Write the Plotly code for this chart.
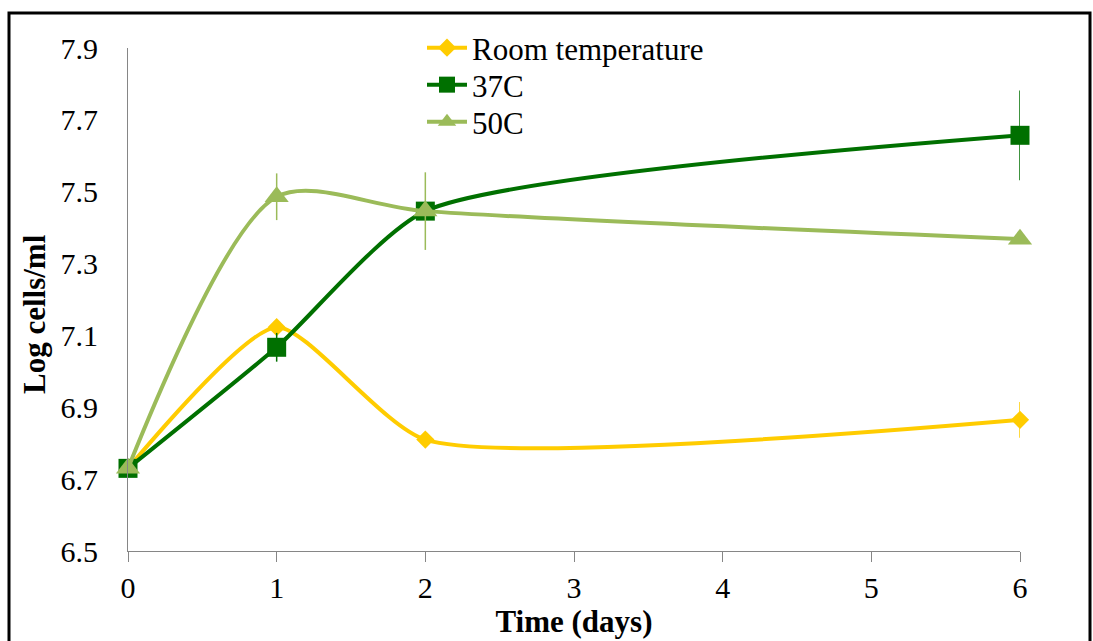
import plotly.graph_objects as go

days = [0, 1, 2, 6]
room_temp = [6.73, 7.123, 6.81, 6.865]
room_err = [0.0, 0.0, 0.0, 0.05]
c37 = [6.73, 7.067, 7.446, 7.657]
c37_err = [0.0, 0.04, 0.0, 0.125]
c50 = [6.73, 7.486, 7.446, 7.368]
c50_err = [0.0, 0.065, 0.108, 0.0]

x_ticks = [0, 1, 2, 3, 4, 5, 6]
y_ticks = [6.5, 6.7, 6.9, 7.1, 7.3, 7.5, 7.7, 7.9]

# name, values, errors, colour, symbol, size, smoothing, legend id, legend row centre (px)
series = [
    ("Room temperature", room_temp, room_err, "#FFCC00", "diamond", 14, 0.6, "legend", 48),
    ("37C", c37, c37_err, "#007000", "square", 19, 0.6, "legend2", 85),
    ("50C", c50, c50_err, "#9BBB59", "triangle-up", 21, 0.8, "legend3", 122),
]

FONT = "Liberation Serif"
PLOT_L, PLOT_R, PLOT_T, PLOT_B = 128, 1020, 48, 551
PW, PH = PLOT_R - PLOT_L, PLOT_B - PLOT_T

def px_x(v):
    return (v - PLOT_L) / PW

def px_y(v):
    return (PLOT_B - v) / PH

fig = go.Figure()
legends = {}
for name, vals, errs, color, sym, size, smooth, leg, row in series:
    fig.add_trace(go.Scatter(
        x=days, y=vals, name=name, mode="lines+markers", legend=leg,
        cliponaxis=False,
        line=dict(color=color, width=4, shape="spline", smoothing=smooth),
        marker=dict(symbol=sym, size=size, color=color, line=dict(width=0)),
        error_y=dict(type="data", array=errs, visible=True, color=color,
                     thickness=1.5, width=0),
    ))
    legends[leg] = dict(x=px_x(422), y=px_y(row), xanchor="left", yanchor="middle",
                        bgcolor="rgba(0,0,0,0)",
                        font=dict(family=FONT, size=31, color="black"),
                        itemwidth=40)

fig.update_layout(
    width=1093, height=641,
    margin=dict(l=PLOT_L, r=1093 - PLOT_R, t=PLOT_T, b=641 - PLOT_B, autoexpand=False),
    paper_bgcolor="white", plot_bgcolor="white",
    font=dict(family=FONT, size=30, color="black"),
    showlegend=True,
    **legends,
    xaxis=dict(range=[0, 6], tickvals=x_ticks, showgrid=False, zeroline=False,
               showline=True, linecolor="#868686", linewidth=1,
               ticks="outside", ticklen=10, tickcolor="#868686",
               tickfont=dict(family=FONT, size=30),
               title=dict(text="<b>Time (days)</b>", font=dict(family=FONT, size=31), standoff=0)),
    yaxis=dict(range=[6.5, 7.9], tickvals=y_ticks, tickformat=".1f",
               showgrid=False, zeroline=False,
               showline=True, linecolor="#868686", linewidth=1,
               ticks="", ticklabelstandoff=23, tickfont=dict(family=FONT, size=30)),
    annotations=[dict(text="<b>Log cells/ml</b>", xref="paper", yref="paper",
                      x=px_x(34), y=px_y(314), xanchor="center", yanchor="middle",
                      textangle=-90, showarrow=False,
                      font=dict(family=FONT, size=31, color="black"))],
    shapes=[dict(type="rect", xref="paper", yref="paper",
                 x0=px_x(9), x1=px_x(1090), y0=-0.3, y1=px_y(13),
                 line=dict(color="black", width=3), fillcolor="rgba(0,0,0,0)")],
)

fig.write_html("out.html")
